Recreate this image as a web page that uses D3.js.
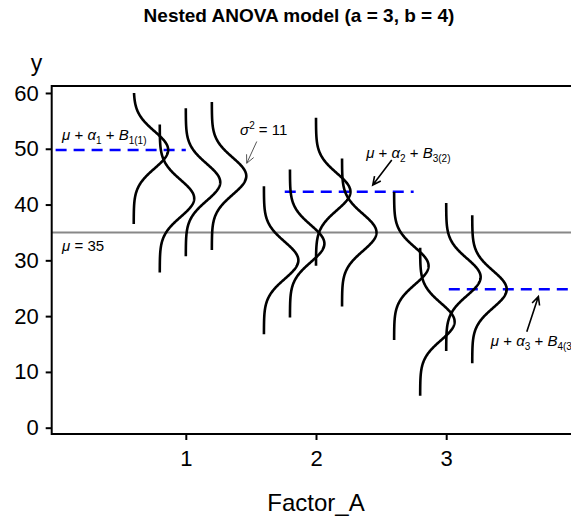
<!DOCTYPE html>
<html>
<head>
  <title>Nested ANOVA model</title>
  <script src="https://d3js.org/d3.v7.min.js"></script>
  <style>
    body {
      margin: 0;
      background: white;
      font-family: "Liberation Sans", Arial, sans-serif;
    }
    svg text {
      fill: black;
    }
    .axis path,
    .axis line {
      stroke: black;
      stroke-width: 2px;
    }
    .axis text {
      font-size: 22px;
      font-family: "Liberation Sans", Arial, sans-serif;
    }
    .note {
      font-size: 15px;
    }
  </style>
</head>
<body>
  <svg id="chart" width="571" height="518"></svg>

  <script>
    // model values
    const mu = 35;
    const sigma2 = 11;
    const factorTicks = [1, 2, 3];
    const yTicks = [0, 10, 20, 30, 40, 50, 60];
    // one curve per B level inside each A level (a = 3, b = 4)
    const curveX = [0.6, 0.8, 1.0, 1.2, 1.6, 1.8, 2.0, 2.2, 2.6, 2.8, 3.0, 3.2];
    const curveMean = [49.8, 41.1, 44.0, 45.1, 30.0, 33.0, 42.3, 35.0, 29.0, 19.0, 27.0, 24.8];
    // highlighted cell means (blue dashed)
    const cellMean = [49.8, 42.3, 24.8];
    const cellFrom = [0, 1.76, 3.02];
    const cellTo = [1.0, 2.75, 4.2];

    const yMax = 60;
    const densityScale = 2.2;

    const svg = d3.select("#chart");
    const plotLeft = 51.7, plotRight = 580.3, plotTop = 86, plotBottom = 434;

    const x = d3.scaleLinear().domain([-0.03, 4.03]).range([plotLeft, plotRight]);
    const y = d3.scaleLinear().domain([-1.13, 61.25]).range([plotBottom, plotTop]);

    // title
    svg.append("text")
      .attr("x", 299)
      .attr("y", 22)
      .attr("text-anchor", "middle")
      .style("font-weight", "bold")
      .style("font-size", "19px")
      .text("Nested ANOVA model (a = 3, b = 4)");

    // overall mean
    svg.append("line")
      .attr("x1", x(-0.03)).attr("x2", x(4.03))
      .attr("y1", y(mu)).attr("y2", y(mu))
      .attr("stroke", "#888")
      .attr("stroke-width", 2);

    // dashed cell means
    cellMean.forEach((m, i) => {
      svg.append("line")
        .attr("x1", x(cellFrom[i])).attr("x2", x(cellTo[i]))
        .attr("y1", y(m)).attr("y2", y(m))
        .attr("stroke", "#0000ff")
        .attr("stroke-width", 2.5)
        .attr("stroke-dasharray", "11 7");
    });

    // normal density curves drawn sideways
    const sd = Math.sqrt(sigma2);
    const pdf = v => Math.exp(-0.5 * v * v) / (sd * Math.sqrt(2 * Math.PI));
    const line = d3.line().x(d => x(d[0])).y(d => y(d[1]));

    curveX.forEach((cx, i) => {
      const m = curveMean[i];
      const lo = m - 4 * sd;
      const hi = Math.min(m + 4 * sd, yMax);
      const pts = d3.range(lo, hi, 0.1).concat([hi])
        .map(v => [cx + densityScale * pdf((v - m) / sd), v]);
      svg.append("path")
        .attr("d", line(pts))
        .attr("fill", "none")
        .attr("stroke", "black")
        .attr("stroke-width", 2.6);
    });

    // axes
    svg.append("g")
      .attr("class", "axis")
      .attr("transform", `translate(${plotLeft},0)`)
      .call(d3.axisLeft(y).tickValues(yTicks).tickSize(6).tickPadding(7))
      .call(g => g.select(".domain").remove());

    svg.append("g")
      .attr("class", "axis")
      .attr("transform", `translate(0,${plotBottom})`)
      .call(d3.axisBottom(x).tickValues(factorTicks).tickSize(6).tickPadding(10)
        .tickFormat(d3.format("d")))
      .call(g => g.select(".domain").remove());

    // frame
    svg.append("rect")
      .attr("x", plotLeft).attr("y", plotTop)
      .attr("width", plotRight - plotLeft).attr("height", plotBottom - plotTop)
      .attr("fill", "none")
      .attr("stroke", "black")
      .attr("stroke-width", 2);

    svg.append("text")
      .attr("x", 36.5).attr("y", 71)
      .attr("text-anchor", "middle")
      .style("font-size", "23px")
      .text("y");

    svg.append("text")
      .attr("x", x(2)).attr("y", 511)
      .attr("text-anchor", "middle")
      .style("font-size", "24px")
      .text("Factor_A");

    // annotations
    function note(px, py, parts) {
      const t = svg.append("text")
        .attr("class", "note")
        .attr("x", x(px)).attr("y", y(py));
      let shift = 0;
      parts.forEach(p => {
        const want = p.sub ? 4 : p.sup ? -6 : 0;
        const s = t.append("tspan")
          .attr("dy", want - shift)
          .text(p.t);
        shift = want;
        if (p.i) s.style("font-style", "italic");
        if (p.sub || p.sup) s.style("font-size", "10px");
      });
    }

    function arrow(x0, y0, x1, y1, color, width) {
      const ax = x(x0), ay = y(y0), bx = x(x1), by = y(y1);
      const ang = Math.atan2(by - ay, bx - ax);
      const h = 9, spread = 0.45;
      svg.append("path")
        .attr("d", `M${ax},${ay}L${bx},${by}` +
          `M${bx - h * Math.cos(ang - spread)},${by - h * Math.sin(ang - spread)}L${bx},${by}` +
          `L${bx - h * Math.cos(ang + spread)},${by - h * Math.sin(ang + spread)}`)
        .attr("fill", "none")
        .attr("stroke", color)
        .attr("stroke-width", width);
    }

    note(0.05, 51.6, [{t: "μ", i: true}, {t: " + "}, {t: "α", i: true}, {t: "1", sub: true},
      {t: " + "}, {t: "B", i: true}, {t: "1(1)", sub: true}]);
    note(0.05, 31.7, [{t: "μ", i: true}, {t: " = 35"}]);
    note(1.417, 52.5, [{t: "σ", i: true}, {t: "2", sup: true}, {t: " = 11"}]);
    note(2.385, 48.3, [{t: "μ", i: true}, {t: " + "}, {t: "α", i: true}, {t: "2", sub: true},
      {t: " + "}, {t: "B", i: true}, {t: "3(2)", sub: true}]);
    note(3.343, 14.7, [{t: "μ", i: true}, {t: " + "}, {t: "α", i: true}, {t: "3", sub: true},
      {t: " + "}, {t: "B", i: true}, {t: "4(3)", sub: true}]);

    arrow(1.545, 51.3, 1.468, 47.4, "#555", 1);
    arrow(2.582, 48.0, 2.436, 43.5, "black", 1.6);
    arrow(3.619, 17.2, 3.708, 23.5, "black", 1.6);
  </script>
</body>
</html>
